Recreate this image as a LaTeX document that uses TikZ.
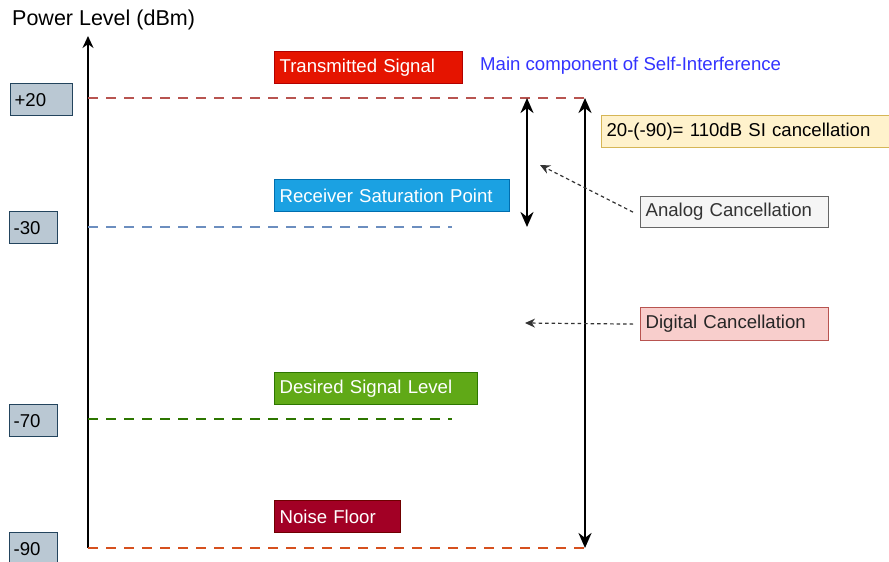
\documentclass[tikz,border=0pt]{standalone}
\usepackage{fontspec}
\setmainfont{Liberation Sans}
\usetikzlibrary{arrows.meta}
\definecolor{lvlfill}{HTML}{BAC8D3}
\definecolor{lvldraw}{HTML}{23445D}
\definecolor{txred}{HTML}{E51400}
\definecolor{txreddraw}{HTML}{B20000}
\definecolor{rxblue}{HTML}{1BA1E2}
\definecolor{rxbluedraw}{HTML}{006EAF}
\definecolor{dsgreen}{HTML}{60A917}
\definecolor{dsgreendraw}{HTML}{2D7600}
\definecolor{nfred}{HTML}{A20025}
\definecolor{nfreddraw}{HTML}{6F0000}
\definecolor{lnred}{HTML}{B85450}
\definecolor{lnblue}{HTML}{6C8EBF}
\definecolor{lngreen}{HTML}{2D7600}
\definecolor{lnorange}{HTML}{D6501E}
\definecolor{ylfill}{HTML}{FFF2CC}
\definecolor{yldraw}{HTML}{D6B656}
\definecolor{gyfill}{HTML}{F5F5F5}
\definecolor{gydraw}{HTML}{666666}
\definecolor{pkfill}{HTML}{F8CECC}
\definecolor{mainblue}{HTML}{3333FF}
\tikzset{
  base/.style={font=\fontsize{18.6}{22}\selectfont},
  lvlbox/.style={base, draw=lvldraw, fill=lvlfill, line width=1.2pt, anchor=north west, minimum height=32pt, inner xsep=4pt, align=left, text=black},
  sigbox/.style={base, line width=1.2pt, anchor=north west, minimum height=32pt, inner xsep=5pt, align=left, text=white},
  notebox/.style={base, line width=1.2pt, anchor=north west, minimum height=32pt, inner xsep=5pt, align=left},
  lvlline/.style={line width=2.6pt, dash pattern=on 10pt off 8pt},
  dbl/.style={line width=2.6pt, {Stealth[length=15pt,width=13pt]}-{Stealth[length=15pt,width=13pt]}},
  ptr/.style={line width=1.2pt, dash pattern=on 3.5pt off 3pt, -{Stealth[length=10pt,width=9pt]}}
}
\begin{document}
\begin{tikzpicture}[x=1pt,y=-1pt]
\useasboundingbox (0,0) rectangle (889,562);
% title
\node[font=\fontsize{21.5}{25}\selectfont, anchor=west, inner sep=0pt] (title) at (12,20) {Power Level (dBm)};
% axis
\coordinate (axb) at (88,548);
\coordinate (axt) at (88,36);
\draw[line width=1.8pt, -{Stealth[length=12pt,width=11pt]}] (axb) -- (axt);
% level boxes
\node[lvlbox, text width=54pt] (l20) at (10,83) {+20};
\node[lvlbox, text width=40pt] (l30) at (9,211) {-30};
\node[lvlbox, text width=40pt] (l70) at (9,404) {-70};
\node[lvlbox, text width=40pt] (l90) at (9,532) {-90};
% level lines
\coordinate (r1) at (88,98);  \coordinate (r2) at (585,98);
\coordinate (b1) at (88,227); \coordinate (b2) at (452,227);
\coordinate (g1) at (88,419); \coordinate (g2) at (452,419);
\coordinate (o1) at (88,548); \coordinate (o2) at (585,548);
\draw[lvlline, draw=lnred] (r1) -- (r2);
\draw[lvlline, draw=lnblue] (b1) -- (b2);
\draw[lvlline, draw=lngreen] (g1) -- (g2);
\draw[lvlline, draw=lnorange] (o1) -- (o2);
% signal boxes
\node[sigbox, fill=txred, draw=txreddraw, text width=178pt] (tx) at (274,51) {Transmitted Signal};
\node[sigbox, fill=rxblue, draw=rxbluedraw, text width=225pt] (rx) at (274,179) {Receiver Saturation Point};
\node[sigbox, fill=dsgreen, draw=dsgreendraw, text width=193pt] (ds) at (274,372) {Desired Signal Level};
\node[sigbox, fill=nfred, draw=nfreddraw, text width=116pt] (nf) at (274,500) {Noise Floor};
% main component text
\node[base, text=mainblue, anchor=west, inner sep=0pt] (mc) at (480,66) {Main component of Self-Interference};
% double arrows
\coordinate (a1t) at (527,98); \coordinate (a1b) at (527,227);
\coordinate (a2t) at (585,98); \coordinate (a2b) at (585,548);
\draw[dbl] (a1t) -- (a1b);
\draw[dbl] (a2t) -- (a2b);
% notes
\node[notebox, fill=ylfill, draw=yldraw, text width=300pt] (si) at (601,115) {20-(-90)= 110dB SI cancellation};
\node[notebox, fill=gyfill, draw=gydraw, text=black!80, text width=178pt, minimum height=31pt] (an) at (640,196) {Analog Cancellation};
\node[notebox, fill=pkfill, draw=lnred, text=black!85, text width=178pt, minimum height=33pt] (dg) at (640,307) {Digital Cancellation};
% pointers
\coordinate (ant) at (540,165);
\coordinate (dgt) at (525,323);
\draw[ptr, draw=black!80] (an.west) ++(-7,0) coordinate (ans) -- (ant);
\draw[ptr, draw=black!80] (dg.west) ++(-7,0) coordinate (dgs) -- (dgt);
\end{tikzpicture}
\end{document}
